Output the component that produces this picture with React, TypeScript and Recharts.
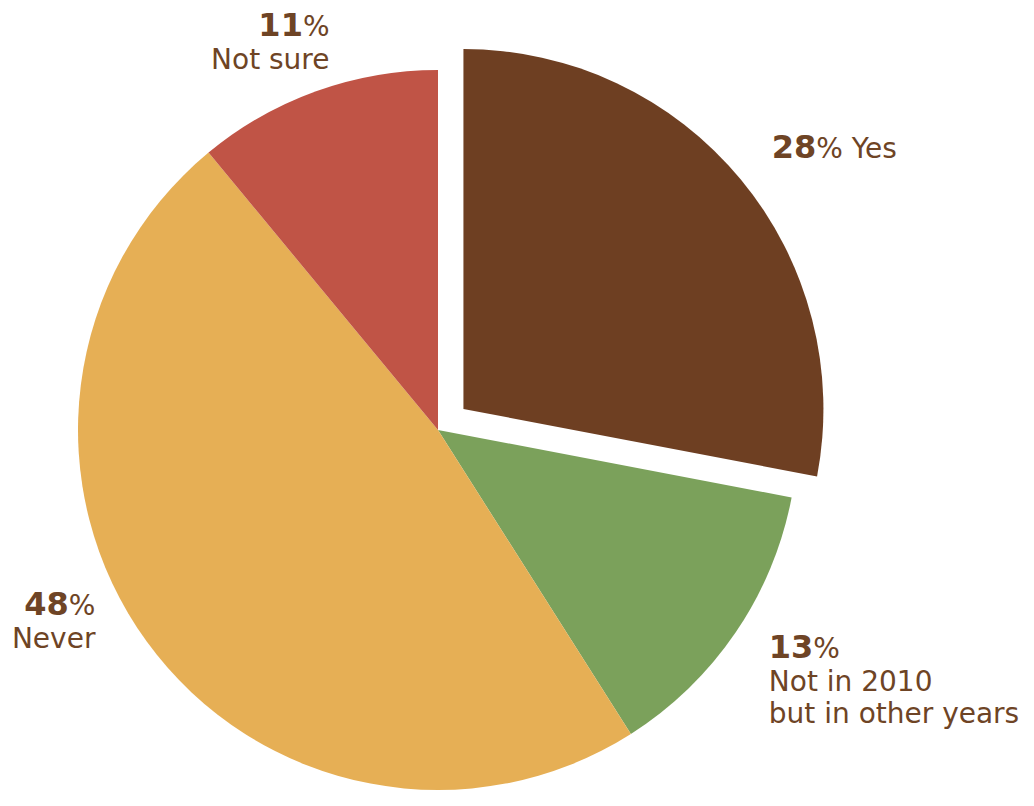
import { PieChart, Pie, Cell } from 'recharts';

const categories = ['Yes', 'Not in 2010', 'Never', 'Not sure'];
const shares = [28, 13, 48, 11];
const labelLines = [['Yes'], ['Not in 2010', 'but in other years'], ['Never'], ['Not sure']];

const colors = ['#6E3F22', '#7BA15B', '#E6AF55', '#C05446'];
const textColor = '#6E4425';
const RAD = Math.PI / 180;
const EXPLODE = 33;
const FONT = '"DejaVu Sans", sans-serif';

const data = categories.map((name, i) => ({ name, value: shares[i] }));

// per-slice label placement around the polar anchor point
const labelLayout = [
  { anchor: 'start', dx: 0, dy: 4, inline: true },
  { anchor: 'start', dx: 0, dy: 3, inline: false },
  { anchor: 'end', dx: -19, dy: -50, inline: false },
  { anchor: 'end', dx: 27, dy: -18, inline: false },
];

const renderLabel = (props: any) => {
  const { cx, cy, midAngle, outerRadius, index } = props;
  const shift = index === 0 ? EXPLODE : 0;
  const r = outerRadius + 40 + shift;
  const x = cx + r * Math.cos(-midAngle * RAD);
  const y = cy + r * Math.sin(-midAngle * RAD);
  const lay = labelLayout[index];
  const tx = x + lay.dx;
  const ty = y + lay.dy;
  const lines = labelLines[index];
  if (lay.inline) {
    return (
      <text x={tx} y={ty} textAnchor={lay.anchor} fill={textColor} fontFamily={FONT} fontSize={28}>
        <tspan fontWeight="bold" fontSize={32}>{shares[index]}</tspan>
        <tspan>{'% ' + lines[0]}</tspan>
      </text>
    );
  }
  return (
    <g>
      <text x={tx} y={ty} textAnchor={lay.anchor} fill={textColor} fontFamily={FONT} fontSize={28}>
        <tspan fontWeight="bold" fontSize={32}>{shares[index]}</tspan>
        <tspan>%</tspan>
      </text>
      {lines.map((line, k) => (
        <text
          key={k}
          x={tx}
          y={ty + 33 + k * 32}
          textAnchor={lay.anchor}
          fill={textColor}
          fontFamily={FONT}
          fontSize={28}
        >
          {line}
        </text>
      ))}
    </g>
  );
};

const CX = 438;
const CY = 430;
// bisector of the exploded "Yes" slice
const yesMid = 90 - (shares[0] / shares.reduce((a, b) => a + b, 0)) * 360 / 2;
const exCX = CX + EXPLODE * Math.cos(yesMid * RAD);
const exCY = CY - EXPLODE * Math.sin(yesMid * RAD);

const App = () => {
  return (
    <div style={{ position: 'absolute', left: 0, top: 0, width: 1034, height: 806, background: '#fff' }}>
      <PieChart width={1034} height={806} margin={{ top: 0, right: 0, bottom: 0, left: 0 }}>
        <Pie
          data={data}
          dataKey="value"
          nameKey="name"
          cx={CX}
          cy={CY}
          outerRadius={360}
          startAngle={90}
          endAngle={-270}
          stroke="none"
          label={renderLabel}
          labelLine={false}
          isAnimationActive={false}
        >
          {data.map((d, i) => (
            <Cell key={d.name} fill={colors[i]} fillOpacity={i === 0 ? 0 : 1} />
          ))}
        </Pie>
        <Pie
          data={data}
          dataKey="value"
          nameKey="name"
          cx={exCX}
          cy={exCY}
          outerRadius={360}
          startAngle={90}
          endAngle={-270}
          stroke="none"
          label={false}
          labelLine={false}
          isAnimationActive={false}
        >
          {data.map((d, i) => (
            <Cell key={d.name} fill={colors[i]} fillOpacity={i === 0 ? 1 : 0} />
          ))}
        </Pie>
      </PieChart>
    </div>
  );
};

export default App;
